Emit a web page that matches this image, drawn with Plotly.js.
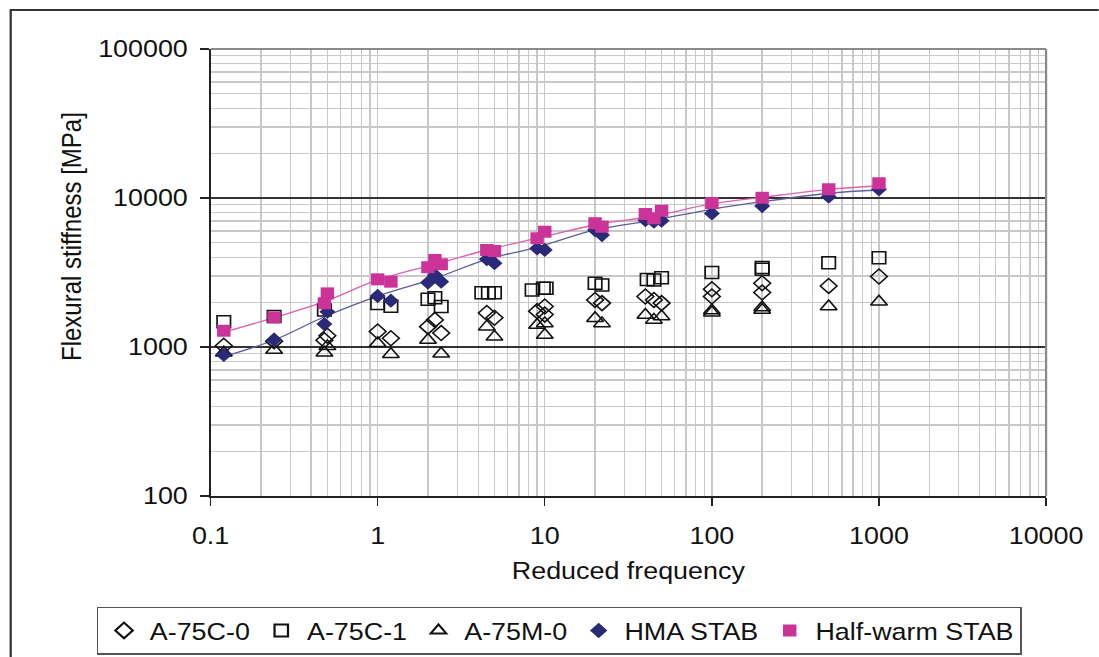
<!DOCTYPE html>
<html>
<head>
<meta charset="utf-8">
<script src="https://cdn.plot.ly/plotly-3.0.1.min.js"></script>
<style>
  html, body { margin: 0; padding: 0; background: #ffffff; overflow: hidden; }
  /* the reference raster is stretched horizontally by ~1.12; reproduce that */
  #chart { width: 981px; height: 657px; transform: scaleX(1.12); transform-origin: 0 0; }
</style>
</head>
<body>
<div id="chart"></div>
<script>
// ---------- data ----------
const seriesNames = ['A-75C-0', 'A-75C-1', 'A-75M-0', 'HMA STAB', 'Half-warm STAB'];

const a75c0X = [0.12, 0.24, 0.48, 0.5, 1, 1.2, 2, 2.2, 2.4, 4.5, 5, 9, 10, 10, 20, 22, 40, 45, 50, 100, 100, 200, 200, 500, 1000];
const a75c0Y = [1020, 1095, 1110, 1190, 1270, 1145, 1370, 1520, 1240, 1690, 1570, 1740, 1870, 1650, 2070, 1970, 2180, 2070, 1970, 2440, 2180, 2680, 2320, 2570, 2970];

const a75c1X = [0.12, 0.24, 0.48, 1, 1.2, 2, 2.2, 2.4, 4.2, 4.6, 5, 8.4, 9.8, 10.2, 20, 22, 41, 45, 50, 100, 200, 200, 500, 1000];
const a75c1Y = [1480, 1600, 1770, 1960, 1880, 2090, 2140, 1870, 2310, 2310, 2310, 2410, 2480, 2480, 2680, 2610, 2840, 2820, 2920, 3160, 3320, 3420, 3680, 3970];

const a75m0X = [0.12, 0.24, 0.48, 0.5, 1, 1.2, 2, 2.4, 4.5, 5, 9, 10, 10, 20, 22, 40, 45, 50, 100, 100, 200, 200, 500, 1000];
const a75m0Y = [915, 955, 915, 1010, 1060, 895, 1115, 900, 1370, 1170, 1405, 1440, 1205, 1560, 1440, 1640, 1520, 1600, 1700, 1760, 1770, 1840, 1870, 2010];

const hmaX = [0.12, 0.24, 0.48, 0.5, 1, 1.2, 2, 2.2, 2.4, 4.5, 5, 9, 10, 20, 22, 40, 45, 50, 100, 200, 500, 1000];
const hmaY = [885, 1115, 1425, 1725, 2200, 2045, 2705, 3040, 2745, 3885, 3650, 4590, 4480, 6100, 5640, 7100, 6940, 7040, 7880, 8830, 10200, 11430];

const warmX = [0.12, 0.24, 0.48, 0.5, 1, 1.2, 2, 2.2, 2.4, 4.5, 5, 9, 10, 20, 22, 40, 45, 50, 100, 200, 500, 1000];
const warmY = [1285, 1580, 1965, 2290, 2845, 2745, 3430, 3840, 3590, 4480, 4405, 5370, 5940, 6760, 6410, 7820, 7310, 8220, 9250, 10050, 11430, 12550];

// fitted master curves
const curveX     = [0.12, 0.24, 0.48, 1, 2.2, 4.5, 9, 20, 45, 100, 200, 500, 1000];
const hmaCurveY  = [861, 1114, 1596, 2198, 2890, 3878, 4670, 6100, 7110, 8400, 9440, 10760, 11320];
const warmCurveY = [1256, 1574, 2014, 2818, 3591, 4477, 5370, 6590, 7570, 9120, 10100, 11440, 12040];

// axis ticks and titles
const xTickVals = [0.1, 1, 10, 100, 1000, 10000];
const xTickText = ['0.1', '1', '10', '100', '1000', '10000'];
const yTickVals = [100, 1000, 10000, 100000];
const yTickText = ['100', '1000', '10000', '100000'];
const xTitle = 'Reduced frequency';
const yTitle = 'Flexural stiffness [MPa]';

// ---------- styling ----------
const FONT = 'Liberation Sans, Arial, Helvetica, sans-serif';
const TXT = '#111111';
const PINK = '#CC3399';
const NAVY = '#2B2A78';
const OPEN = { width: 1.5, color: '#111111' };

const traces = [
  { x: curveX, y: hmaCurveY, mode: 'lines', line: { color: '#5E5E9E', width: 1.3, shape: 'spline' }, showlegend: false, hoverinfo: 'skip' },
  { x: curveX, y: warmCurveY, mode: 'lines', line: { color: '#DB62AE', width: 1.3, shape: 'spline' }, showlegend: false, hoverinfo: 'skip' },
  { x: a75c0X, y: a75c0Y, name: seriesNames[0], mode: 'markers',
    marker: { symbol: 'diamond-open', size: 11.5, color: '#111111', line: OPEN } },
  { x: a75c1X, y: a75c1Y, name: seriesNames[1], mode: 'markers',
    marker: { symbol: 'square-open', size: 12, color: '#111111', line: OPEN } },
  { x: a75m0X, y: a75m0Y, name: seriesNames[2], mode: 'markers',
    marker: { symbol: 'triangle-up-open', size: 13, color: '#111111', line: OPEN } },
  { x: hmaX, y: hmaY, name: seriesNames[3], mode: 'markers',
    marker: { symbol: 'diamond', size: 11, color: NAVY } },
  { x: warmX, y: warmY, name: seriesNames[4], mode: 'markers',
    marker: { symbol: 'square', size: 12, color: PINK } }
];

const layout = {
  width: 981, height: 657,
  margin: { l: 187.5, r: 47.3, t: 49, b: 161, autoexpand: false },
  paper_bgcolor: '#ffffff', plot_bgcolor: '#ffffff',
  font: { family: FONT, size: 24, color: TXT },
  showlegend: true,
  legend: {
    orientation: 'h', x: -0.1364, xanchor: 'left', y: -0.248, yanchor: 'top',
    bordercolor: '#555555', borderwidth: 1.5, bgcolor: '#ffffff',
    font: { family: FONT, size: 24, color: TXT }, itemsizing: 'constant', itemwidth: 36
  },
  xaxis: {
    type: 'log', range: [-1, 4],
    tickmode: 'array', tickvals: xTickVals, ticktext: xTickText,
    ticks: 'outside', ticklen: 8, tickcolor: '#222', tickwidth: 1.2,
    ticklabelstandoff: 10,
    showline: true, linecolor: '#222', linewidth: 1.5,
    showgrid: true, gridcolor: '#c8c8c8', gridwidth: 1.2,
    minor: { dtick: 'D1', showgrid: true, gridcolor: '#c8c8c8', gridwidth: 1.2, ticks: '' },
    zeroline: false,
    title: { text: xTitle, font: { family: FONT, size: 24, color: TXT }, standoff: 14 }
  },
  yaxis: {
    type: 'log', range: [2, 5],
    tickmode: 'array', tickvals: yTickVals, ticktext: yTickText,
    ticks: 'outside', ticklen: 8, tickcolor: '#222', tickwidth: 1.2,
    ticklabelstandoff: 6,
    showline: true, linecolor: '#222', linewidth: 1.5,
    showgrid: true, gridcolor: '#333333', gridwidth: 1.5,
    minor: { dtick: 'D1', showgrid: true, gridcolor: '#c8c8c8', gridwidth: 1.2, ticks: '' },
    zeroline: false
  },
  annotations: [
    { text: yTitle, xref: 'paper', yref: 'paper', x: -0.1675, y: 0.5794,
      xanchor: 'center', yanchor: 'middle', textangle: -90, showarrow: false,
      font: { family: FONT, size: 24, color: TXT } }
  ],
  shapes: [
    // outer frame of the figure
    { type: 'rect', xref: 'paper', yref: 'paper', x0: -0.2392, x1: 1.08, y0: -0.40, y1: 1.0872,
      line: { color: '#333333', width: 2 }, fillcolor: 'rgba(0,0,0,0)', layer: 'below' },
    // grey top and right border of the plot area
    { type: 'line', xref: 'paper', yref: 'paper', x0: 0, x1: 1, y0: 1, y1: 1, line: { color: '#8a8a8a', width: 2 } },
    { type: 'line', xref: 'paper', yref: 'paper', x0: 1, x1: 1, y0: 0, y1: 1, line: { color: '#8a8a8a', width: 2 } }
  ]
};

Plotly.newPlot('chart', traces, layout, { displayModeBar: false, staticPlot: true });
</script>
</body>
</html>
